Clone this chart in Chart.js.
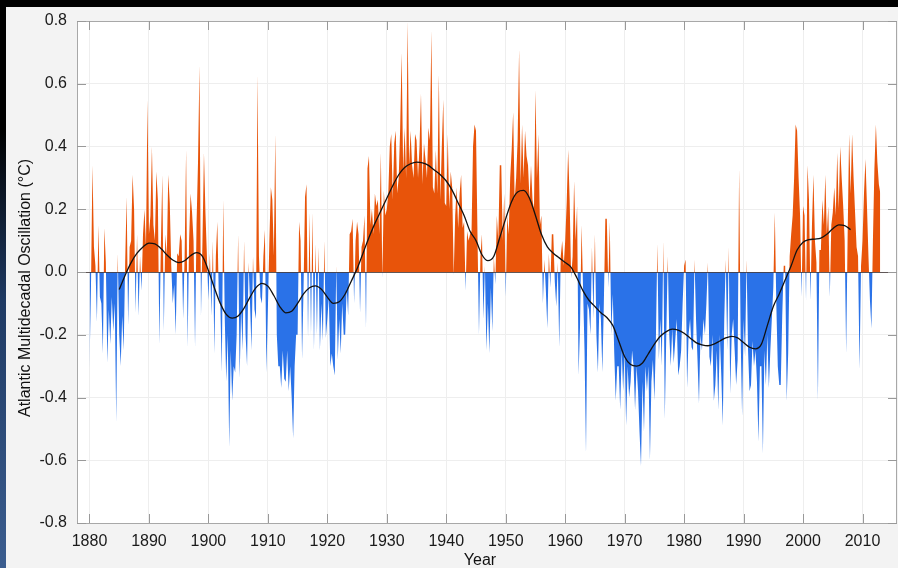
<!DOCTYPE html>
<html>
<head>
<meta charset="utf-8">
<script src="https://cdn.jsdelivr.net/npm/chart.js@4"></script>
<style>
html, body { margin: 0; padding: 0; }
body {
    width: 898px; height: 568px; overflow: hidden;
    background: linear-gradient(to bottom, #000 0px, #000 130px, #1f3a63 300px, #3b5d8f 568px);
}
#panel { position: absolute; left: 6px; top: 7px; width: 892px; height: 561px; background: #f3f3f3; }
</style>
</head>
<body>
<div id="panel"><canvas id="amoChart" width="892" height="561"></canvas></div>
<script>
// AMO index, 4 readings per year starting 1880
const amoStart = 1880;
const perYear = 4;
const amo1880s = [-0.31,-0.05,0.34,0.08, 0.02,-0.16,0.15,-0.08, -0.10,-0.26,0.14,0.03, -0.29,-0.12,-0.23,-0.08, -0.19,-0.10,-0.48,0.06,
                  -0.20,-0.30,-0.14,-0.25, 0.03,0.24,-0.17,0.08, 0.10,0.31,0.20,-0.13, 0.12,-0.14,0.05,-0.06, 0.12,0.20,0.08,0.55];
const amo1890s = [0.12,0.18,0.40,0.15, 0.10,0.32,0.23,-0.23, 0.08,0.31,-0.19,0.12, 0.05,0.31,0.22,0.02, -0.10,-0.04,-0.20,0.06,
                  0.05,0.12,0.10,-0.15, 0.05,0.39,-0.24,0.10, 0.25,0.19,0.10,-0.24, 0.15,0.35,0.66,-0.14, 0.10,0.38,0.19,0.05];
const amo1900s = [-0.09,0.06,-0.14,0.10, -0.26,0.05,0.16,-0.08, -0.10,-0.32,0.23,-0.15, -0.35,-0.20,-0.56,-0.25, -0.41,-0.30,-0.32,-0.20,
                  0.12,-0.34,-0.12,-0.25, 0.10,-0.20,-0.30,0.03, -0.10,-0.25,0.05,-0.12, -0.15,0.63,0.05,-0.08, -0.10,0.05,0.135,-0.32];
const amo1910s = [-0.12,0.10,0.27,0.23, 0.05,0.44,-0.20,-0.30, -0.30,-0.37,-0.25,-0.34, -0.35,-0.25,-0.38,-0.30, -0.40,-0.53,-0.30,-0.20,
                  -0.20,0.16,0.10,-0.28, -0.05,0.24,0.28,-0.21, 0.19,-0.20,0.19,-0.25, 0.09,-0.20,0.08,-0.25, -0.10,-0.22,0.10,-0.21];
const amo1920s = [-0.15,-0.08,-0.30,-0.26, -0.30,-0.33,0.02,-0.28, -0.15,-0.26,-0.10,-0.20, -0.20,-0.05,-0.14,0.12, 0.13,0.17,-0.10,0.10,
                  0.16,0.12,-0.13,0.08, 0.10,0.18,-0.18,0.33, 0.37,0.15,0.20,0.12, 0.25,0.21,0.23,0.12, 0.38,-0.02,0.26,0.18];
const amo1930s = [0.20,0.25,0.40,0.44, 0.23,0.41,0.45,0.25, 0.30,0.46,0.70,0.32, 0.46,0.30,0.80,0.34, 0.45,0.34,0.30,0.44,
                  0.42,0.30,0.40,0.57, 0.28,0.41,0.36,0.30, 0.46,0.42,0.77,0.27, 0.25,0.39,0.25,0.63, 0.23,0.40,0.55,0.22];
const amo1940s = [0.21,0.44,0.20,0.32, 0.27,-0.01,0.18,0.27, 0.14,0.25,0.31,0.14, 0.16,-0.06,0.13,0.10, 0.12,0.13,0.40,0.47,
                  0.45,0.12,-0.20,0.05, 0.12,-0.15,0.02,-0.25, -0.10,-0.26,-0.05,-0.19, 0.05,-0.04,0.18,0.10, 0.34,0.34,0.10,0.25];
const amo1950s = [-0.08,0.18,0.12,0.30, 0.39,0.51,0.23,0.30, 0.42,0.71,0.28,0.47, 0.30,0.45,0.37,0.34, 0.23,0.34,0.23,0.20,
                  0.58,0.30,0.44,0.15, 0.18,-0.10,0.04,-0.06, -0.18,0.06,-0.05,0.12, 0.12,-0.03,-0.11,0.03, -0.24,0.05,0.10,0.02];
const amo1960s = [0.10,0.22,0.39,0.23, -0.02,0.05,0.29,0.10, 0.21,-0.33,-0.17,0.15, -0.05,-0.25,-0.58,-0.10, -0.12,-0.20,0.08,-0.15,
                  0.12,-0.20,-0.32,-0.10, -0.15,-0.32,-0.10,0.17, 0.17,-0.05,0.16,-0.20, -0.07,-0.26,-0.41,-0.30, -0.30,-0.44,-0.25,-0.38];
const amo1970s = [-0.25,-0.49,-0.30,-0.40, -0.35,-0.25,-0.30,-0.44, -0.30,-0.38,-0.51,-0.62, -0.35,-0.51,-0.30,-0.38, -0.30,-0.60,-0.35,-0.28,
                  -0.41,-0.22,0.09,-0.28, -0.15,-0.30,0.10,-0.47, -0.20,0.05,-0.20,-0.30, -0.18,-0.29,-0.22,-0.15, -0.33,-0.30,-0.25,-0.10];
const amo1980s = [0.02,0.04,-0.37,-0.20, -0.15,-0.24,-0.25,0.04, -0.15,-0.28,-0.42,-0.20, -0.25,-0.15,-0.20,-0.10, 0.03,-0.27,-0.30,-0.20,
                  -0.41,-0.36,-0.25,-0.44, -0.20,-0.33,-0.49,-0.15, 0.04,-0.25,0.08,-0.39, -0.20,-0.15,-0.25,-0.36, -0.28,0.33,-0.20,-0.46];
const amo1990s = [-0.15,-0.27,0.04,-0.25, -0.38,-0.36,-0.22,-0.30, -0.25,-0.35,-0.54,-0.30, -0.30,-0.58,-0.25,-0.36, -0.20,-0.37,-0.25,-0.15,
                  -0.05,0.19,-0.10,-0.30, -0.36,-0.36,-0.14,0.02, 0.02,-0.41,-0.26,0.05, 0.12,0.18,0.30,0.47, 0.45,0.30,0.18,-0.08];
const amo2000s = [0.21,0.18,-0.09,0.34, 0.23,-0.09,0.15,0.31, 0.10,0.03,-0.41,0.07, 0.07,0.23,0.15,0.31, 0.12,0.21,-0.08,0.15,
                  0.19,0.27,0.18,0.38, 0.20,0.40,0.30,0.21, 0.10,-0.26,0.12,0.44, 0.25,0.44,0.30,0.19, 0.08,0.05,-0.31,0.02];
const amo2010s = [0.10,0.25,0.36,0.21, 0.05,-0.09,-0.18,0.10, 0.33,0.47,0.35,0.28, 0.25];

// smoothed curve, one value per year from 1885
const smoothStart = 1885;
const smoothValues = [
    -0.056, -0.01, 0.03, 0.06, 0.08,
    0.092, 0.09, 0.075, 0.055, 0.038, 0.03, 0.036, 0.052, 0.062, 0.05,
    0.005, -0.05, -0.10, -0.135, -0.147, -0.14, -0.115, -0.08, -0.05, -0.036,
    -0.045, -0.075, -0.11, -0.13, -0.125, -0.10, -0.07, -0.05, -0.044, -0.055,
    -0.08, -0.10, -0.095, -0.07, -0.03, 0.01, 0.06, 0.11, 0.155, 0.195,
    0.235, 0.275, 0.31, 0.333, 0.345, 0.35, 0.348, 0.34, 0.325, 0.31,
    0.29, 0.26, 0.22, 0.18, 0.13, 0.10, 0.055, 0.036, 0.05, 0.11,
    0.17, 0.225, 0.255, 0.26, 0.235, 0.18, 0.12, 0.08, 0.06, 0.045,
    0.03, 0.015, -0.02, -0.06, -0.09, -0.11, -0.13, -0.145, -0.17, -0.22,
    -0.27, -0.295, -0.30, -0.29, -0.26, -0.23, -0.205, -0.19, -0.182, -0.185,
    -0.195, -0.21, -0.225, -0.232, -0.235, -0.23, -0.22, -0.21, -0.205, -0.21,
    -0.225, -0.24, -0.245, -0.23, -0.17, -0.11, -0.07, -0.025, 0.02, 0.07,
    0.095, 0.103, 0.105, 0.108, 0.12, 0.138, 0.15, 0.148, 0.135
];

const yearTicks = [1880, 1890, 1900, 1910, 1920, 1930, 1940, 1950, 1960, 1970, 1980, 1990, 2000, 2010];
const valueTicks = [-0.8, -0.6, -0.4, -0.2, 0, 0.2, 0.4, 0.6, 0.8];

const orange = 'rgb(232, 84, 10)';
const blue = 'rgb(42, 114, 232)';
const font = 'Liberation Sans, Arial, sans-serif';

let amoValues = [].concat(amo1880s, amo1890s, amo1900s, amo1910s, amo1920s, amo1930s,
    amo1940s, amo1950s, amo1960s, amo1970s, amo1980s, amo1990s, amo2000s, amo2010s);
let amoPoints = amoValues.map((v, i) => ({ x: amoStart + i / perYear, y: v }));
let smoothPoints = smoothValues.map((v, i) => ({ x: smoothStart + i, y: v }));

const framePlugin = {
    id: 'frame',
    beforeDraw(chart) {
        let { ctx, chartArea: a } = chart;
        ctx.save();
        ctx.fillStyle = '#fff';
        ctx.fillRect(a.left, a.top, a.right - a.left, a.bottom - a.top);
        ctx.restore();
    },
    beforeDatasetDraw(chart, args) {
        if (args.index !== 1) return;
        let { ctx, chartArea: a } = chart;
        let y0 = Math.round(chart.scales.y.getPixelForValue(0)) + 0.5;
        ctx.save();
        ctx.strokeStyle = 'rgba(70,60,60,0.85)';
        ctx.lineWidth = 1;
        ctx.beginPath();
        ctx.moveTo(a.left, y0);
        ctx.lineTo(a.right, y0);
        ctx.stroke();
        ctx.restore();
    },
    afterDraw(chart) {
        let { ctx, chartArea: a, scales } = chart;
        ctx.save();
        ctx.strokeStyle = '#a8a8a8';
        ctx.lineWidth = 1;
        ctx.strokeRect(a.left + 0.5, a.top + 0.5, a.right - a.left - 1, a.bottom - a.top);
        ctx.strokeStyle = '#999';
        ctx.beginPath();
        yearTicks.forEach(t => {
            let x = Math.round(scales.x.getPixelForValue(t)) + 0.5;
            ctx.moveTo(x, a.bottom); ctx.lineTo(x, a.bottom - 9);
            ctx.moveTo(x, a.top); ctx.lineTo(x, a.top + 9);
        });
        valueTicks.forEach(t => {
            let y = Math.round(scales.y.getPixelForValue(t)) + 0.5;
            ctx.moveTo(a.left, y); ctx.lineTo(a.left + 9, y);
            ctx.moveTo(a.right, y); ctx.lineTo(a.right - 9, y);
        });
        ctx.stroke();

        // axis titles
        ctx.fillStyle = '#111';
        ctx.font = '16px ' + font;
        ctx.textAlign = 'center';
        ctx.textBaseline = 'middle';
        ctx.fillText('Year', 474, 554);
        ctx.translate(19.5, 281);
        ctx.rotate(-Math.PI / 2);
        ctx.fillText('Atlantic Multidecadal Oscillation (°C)', 0, 0);
        ctx.restore();
    }
};

new Chart(document.getElementById('amoChart'), {
    type: 'line',
    data: {
        datasets: [{
            label: 'AMO',
            data: amoPoints,
            order: 1,
            borderWidth: 0,
            borderColor: 'transparent',
            pointRadius: 0,
            tension: 0,
            fill: { target: 'origin', above: orange, below: blue }
        }, {
            label: 'Smoothed',
            data: smoothPoints,
            order: 0,
            borderColor: '#111',
            borderWidth: 1.3,
            pointRadius: 0,
            cubicInterpolationMode: 'monotone',
            fill: false
        }]
    },
    options: {
        responsive: false,
        animation: false,
        devicePixelRatio: 1,
        layout: { padding: { top: 14, right: 1, left: 0, bottom: 0 } },
        plugins: { legend: { display: false }, tooltip: { enabled: false } },
        scales: {
            x: {
                type: 'linear',
                min: 1877.9,
                max: 2015.8,
                afterBuildTicks: s => { s.ticks = yearTicks.map(v => ({ value: v })); },
                afterFit: s => { s.height = 45; s.paddingLeft = 0; s.paddingRight = 0; },
                border: { display: false },
                grid: { color: '#eeeeee', drawTicks: false },
                ticks: {
                    padding: 9, color: '#1a1a1a', maxRotation: 0, autoSkip: false,
                    font: { family: font, size: 16 },
                    callback: v => String(v)
                }
            },
            y: {
                min: -0.8,
                max: 0.8,
                afterBuildTicks: s => { s.ticks = valueTicks.map(v => ({ value: v })); },
                afterFit: s => { s.width = 71; s.paddingTop = 0; s.paddingBottom = 0; },
                border: { display: false },
                grid: { color: '#eeeeee', drawTicks: false },
                ticks: {
                    padding: 10, color: '#1a1a1a',
                    font: { family: font, size: 16 },
                    callback: v => v.toFixed(1)
                }
            }
        }
    },
    plugins: [framePlugin]
});
</script>
</body>
</html>
